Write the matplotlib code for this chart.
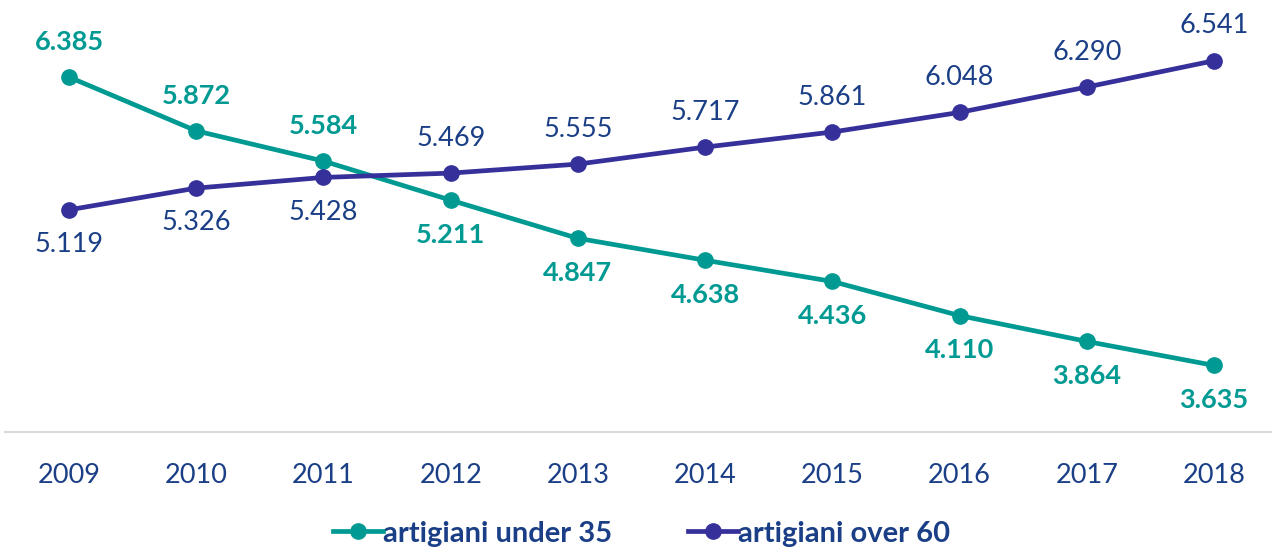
import matplotlib.pyplot as plt

years = ['2009', '2010', '2011', '2012', '2013', '2014', '2015', '2016', '2017', '2018']
under_35 = [6385, 5872, 5584, 5211, 4847, 4638, 4436, 4110, 3864, 3635]
over_60 = [5119, 5326, 5428, 5469, 5555, 5717, 5861, 6048, 6290, 6541]

teal = '#009A93'
purple = '#36309A'
navy = '#1B3F86'


def fmt(v):
    # italian thousands separator
    return f"{v:,}".replace(',', '.')


plt.rcParams['font.family'] = ['Lato', 'DejaVu Sans']

fig = plt.figure(figsize=(12.72, 5.49), dpi=100)
ax = fig.add_axes([0.00425, 0.2131, 1.0002, 0.7869])

x = list(range(len(years)))
ax.plot(x, under_35, color=teal, lw=3.4, marker='o', ms=11, label='artigiani under 35', zorder=3)
ax.plot(x, over_60, color=purple, lw=3.4, marker='o', ms=11, label='artigiani over 60', zorder=3)

for i, (u, o) in enumerate(zip(under_35, over_60)):
    # labels sit on the outside of each line
    u_up = u > o
    ax.annotate(fmt(u), (i, u), xytext=(0, 25 if u_up else -25), textcoords='offset points',
                ha='center', va='center', color=teal, fontsize=19.5, fontweight='bold')
    ax.annotate(fmt(o), (i, o), xytext=(0, 25 if not u_up else -25), textcoords='offset points',
                ha='center', va='center', color=navy, fontsize=19.5)

ax.set_xlim(-0.5, len(years) - 0.5)
ax.set_ylim(3000, 7120)
ax.set_xticks(x)
ax.set_xticklabels(years, color=navy, fontsize=19.5)
ax.tick_params(axis='x', length=0, pad=22)
ax.set_yticks([])
for side in ['top', 'left', 'right']:
    ax.spines[side].set_visible(False)
ax.spines['bottom'].set_color('#D9D9D9')
ax.spines['bottom'].set_linewidth(1.5)

leg = ax.legend(loc='center', bbox_to_anchor=(0.5, -0.235), ncol=2, frameon=False,
                handlelength=1.7, handletextpad=0.0, columnspacing=2.6,
                borderpad=0, prop={'size': 21, 'weight': 'bold'})
for t in leg.get_texts():
    t.set_color(navy)

fig.savefig('out.png', dpi=100)
